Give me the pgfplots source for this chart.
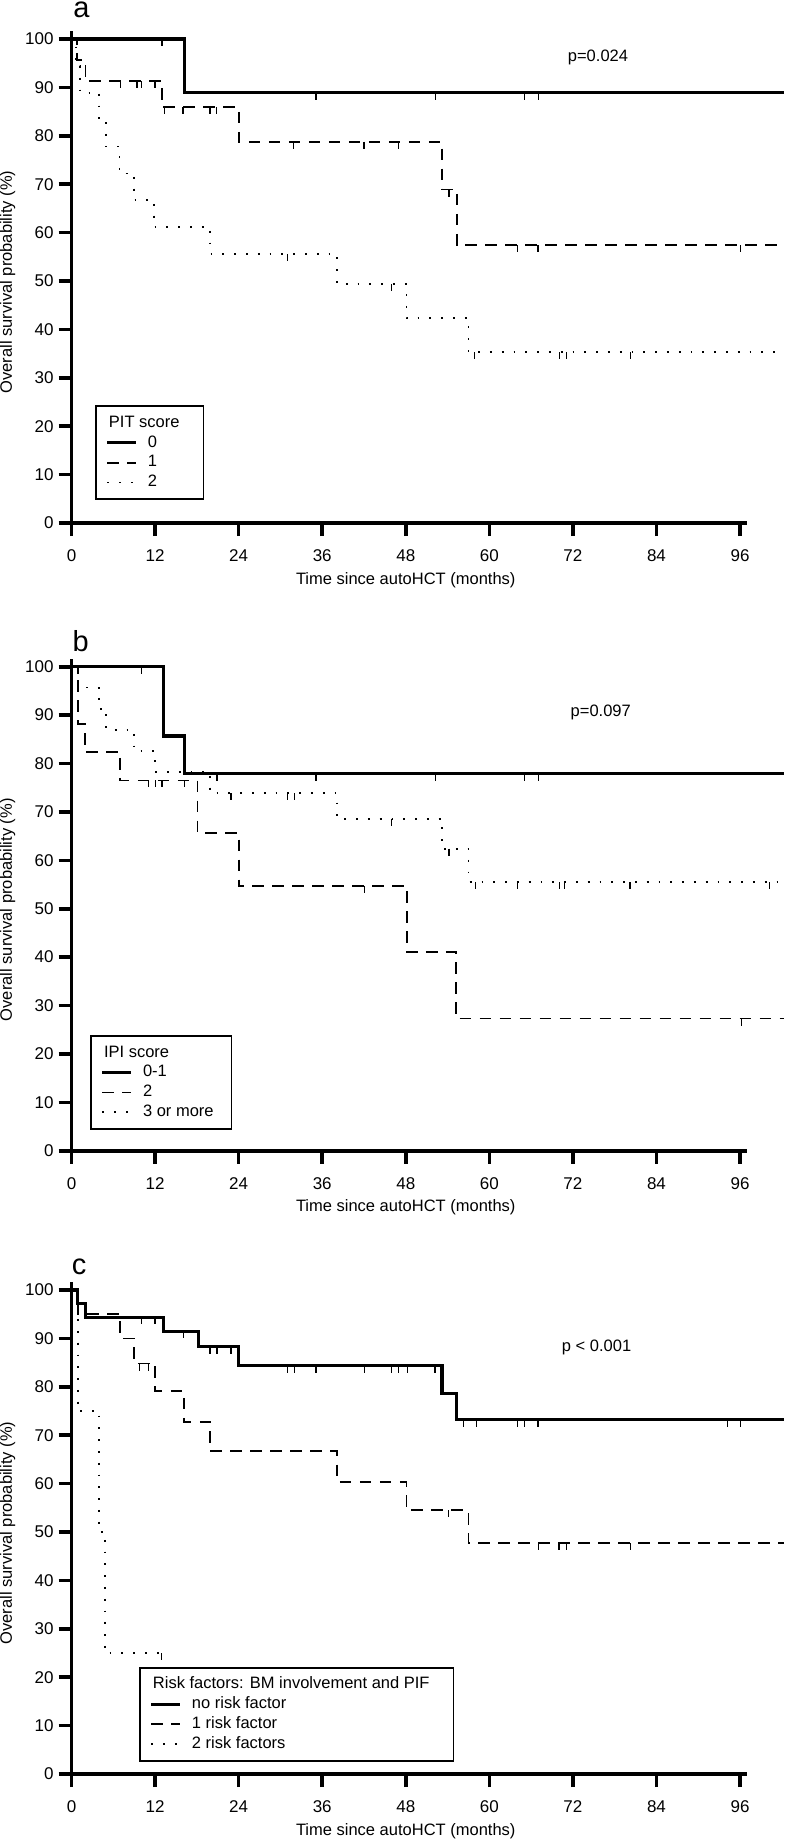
\documentclass[border=0pt]{standalone}
\usepackage{fontspec}
\setmainfont{Liberation Sans}
\usepackage{pgfplots}
\pgfplotsset{compat=1.18}

% censoring tick: short stroke hanging below the curve
\pgfdeclareplotmark{cens}{%
  \pgfpathmoveto{\pgfqpoint{0pt}{0pt}}%
  \pgfpathlineto{\pgfqpoint{0pt}{-\pgfplotmarksize}}%
  \pgfusepathqstroke}

\tikzset{
  letter/.style={anchor=base west, inner sep=0pt, text height=1ex,
    font=\fontsize{14.5}{16}\selectfont},
  pval/.style={font=\fontsize{8.25}{10}\selectfont},
}

\pgfplotsset{
  km/.style={
    x=3.482pt, y=2.42pt,
    xmin=0, xmax=97, ymin=0, ymax=101.6,
    clip=false,
    axis x line*=bottom, axis y line*=left,
    axis line style={line width=1.8pt},
    tick style={line width=1.8pt, black},
    tick align=outside,
    major tick length=6.5pt,
    xtick={0,12,...,96}, ytick={0,10,...,100},
    /pgf/number format/assume math mode=true,
    tick label style={font=\fontsize{8.5}{10}\selectfont, inner sep=0pt},
    xticklabel style={anchor=north, yshift=-6.8pt},
    yticklabel style={anchor=east, xshift=-2.25pt},
    xlabel={Time since autoHCT (months)},
    ylabel={Overall survival probability (\%)},
    label style={font=\fontsize{8.25}{10}\selectfont, inner sep=0pt},
    xlabel style={at={(axis description cs:0.4948,-0.1159)}, anchor=center},
    ylabel style={at={(axis description cs:-0.0947,0.49)}, anchor=center},
    legend cell align=left,
    legend image code/.code={\draw[#1] (0pt,0pt) -- (14.5pt,0pt);},
    legend style={draw=black, line width=0.8pt, inner xsep=5pt, inner ysep=4.5pt,
      column sep=5pt, row sep=2.1pt,
      font=\fontsize{8.25}{10}\selectfont,
      nodes={inner sep=0pt, text height=6pt, text depth=1.8pt}},
  },
  s0/.style={black, line width=1.6pt, const plot},
  s1/.style={black, line width=0.9pt, const plot, dash pattern=on 5.8pt off 4.2pt},
  s2/.style={black, line width=0.9pt, const plot, dash pattern=on 0.9pt off 5pt},
  cz/.style={black, only marks, mark=cens, mark size=3.5pt,
    mark options={solid, line width=0.6pt}, forget plot},
}

\begin{document}
\begin{tikzpicture}
\useasboundingbox (-35.75pt,-659pt) rectangle (356.25pt,261.5pt);

% ---------------- a: PIT score ----------------
\begin{axis}[km, at={(0,0)}, anchor=south west,
  legend style={at={(axis cs:3.37,4.75)}, anchor=south west}]
\addlegendimage{empty legend}
\addplot[s0] coordinates {(0,100) (16.2,88.9) (102.3,88.9)};
\addplot[s1] coordinates {(0,100) (0.8,95.7) (2.0,91.3) (13.0,85.9) (24.0,78.8)
  (53.2,68.9) (55.3,57.4) (102.3,57.4)};
\addplot[s2] coordinates {(0,100) (0.6,94.4) (1.2,88.9) (4.0,83.3) (5.0,77.8)
  (6.9,72.2) (9.0,66.7) (11.9,61.1) (19.9,55.6) (38.1,49.4) (48.1,42.3)
  (57.0,35.3) (102.3,35.3)};
\addplot[cz] coordinates {(13.0,100) (35.1,88.9) (52.3,88.9) (65.1,88.9) (67.1,88.9)};
\addplot[cz] coordinates {(7.0,91.3) (9.4,91.3) (10.1,91.3) (12.0,91.3)
  (13.3,85.9) (16.0,85.9) (19.9,85.9) (20.8,85.9)
  (31.9,78.8) (42.0,78.8) (46.9,78.8) (54.2,68.9)
  (64.0,57.4) (67.0,57.4) (96.1,57.4)};
\addplot[cz] coordinates {(31.0,55.6) (46.0,49.4) (57.9,35.3) (70.1,35.3)
  (71.1,35.3) (80.3,35.3)};
\legend{\hspace*{-19.5pt}PIT score\hspace*{7pt},0,1,2}
\node[pval] at (axis cs:75.6,96.1) {p=0.024};
\node[letter] at (axis cs:0.2,104.5) {a};
\end{axis}

% ---------------- b: IPI score ----------------
\begin{axis}[km, at={(0,-313.85pt)}, anchor=south west,
  legend style={at={(axis cs:2.66,4.28)}, anchor=south west}]
\addlegendimage{empty legend}
\addplot[s0] coordinates {(0,100) (13.2,85.7) (16.2,77.9) (102.3,77.9)};
\addplot[s1] coordinates {(0,100) (0.9,88.2) (1.9,82.4) (7.0,76.5) (18.1,65.6)
  (24.0,54.7) (48.2,41.0) (55.2,27.3) (102.3,27.3)};
\addplot[s2] coordinates {(0,100) (0.9,95.7) (4.0,91.3) (5.0,87.0) (9.0,82.6)
  (12.0,78.3) (19.9,73.9) (38.1,68.6) (53.2,62.4) (57.0,55.5) (102.3,55.5)};
\addplot[cz] coordinates {(10.1,100) (20.9,77.9) (35.1,77.9) (52.3,77.9)
  (65.1,77.9) (67.1,77.9)};
\addplot[cz] coordinates {(11.1,76.5) (12.1,76.5) (13.0,76.5) (16.2,76.5)
  (42.1,54.7) (96.2,27.3)};
\addplot[cz] coordinates {(22.9,73.9) (31.0,73.9) (32.0,73.9) (46.0,68.6)
  (54.2,62.4) (58.0,55.5) (64.0,55.5) (70.1,55.5) (70.8,55.5) (80.2,55.5)
  (100.2,55.5)};
\legend{\hspace*{-19.5pt}IPI score,0-1,2,3 or more\hspace*{4pt}}
\node[pval] at (axis cs:76.0,90.5) {p=0.097};
\node[letter] at (axis cs:0.1,103.1) {b};
\end{axis}

% ---------------- c: risk factors ----------------
\begin{axis}[km, at={(0,-625.5pt)}, anchor=south west,
  legend style={at={(axis cs:9.69,2.54)}, anchor=south west}]
\addlegendimage{empty legend}
\addplot[s0] coordinates {(0,100) (0.9,97.2) (2.0,94.4) (13.2,91.5) (18.2,88.3)
  (24.0,84.4) (53.2,78.7) (55.3,73.2) (102.3,73.2)};
\addplot[s1] coordinates {(0,100) (0.9,95.0) (7.0,90.0) (9.0,84.8) (12.0,79.2)
  (16.1,72.8) (19.9,66.7) (38.1,60.4) (48.1,54.5) (57.0,47.7) (102.3,47.7)};
\addplot[s2] coordinates {(0,100) (0.9,75.0) (4.0,50.0) (4.8,25.0) (12.9,25.0)};
\addplot[cz] coordinates {(10.1,94.4) (12.0,94.4) (16.1,91.5) (19.9,88.3)
  (20.9,88.3) (22.9,88.3) (31.0,84.4) (32.0,84.4) (35.1,84.4) (42.1,84.4)
  (46.0,84.4) (46.9,84.4) (48.2,84.4) (52.2,84.4) (56.3,73.2) (58.1,73.2)
  (64.1,73.2) (65.0,73.2) (67.0,73.2) (94.2,73.2) (96.1,73.2)};
\addplot[cz] coordinates {(9.8,84.8) (11.0,84.8) (54.1,54.5) (67.1,47.7)
  (70.0,47.7) (71.1,47.7) (80.3,47.7)};
\addplot[cz] coordinates {(12.9,25.0)};
\legend{\hspace*{-19.5pt}Risk factors: BM involvement and PIF\hspace*{7pt},no risk factor,1 risk factor,2 risk factors}
\node[pval] at (axis cs:75.4,88.1) {p < 0.001};
\node[letter] at (axis cs:0,103.2) {c};
\end{axis}
\end{tikzpicture}
\end{document}
